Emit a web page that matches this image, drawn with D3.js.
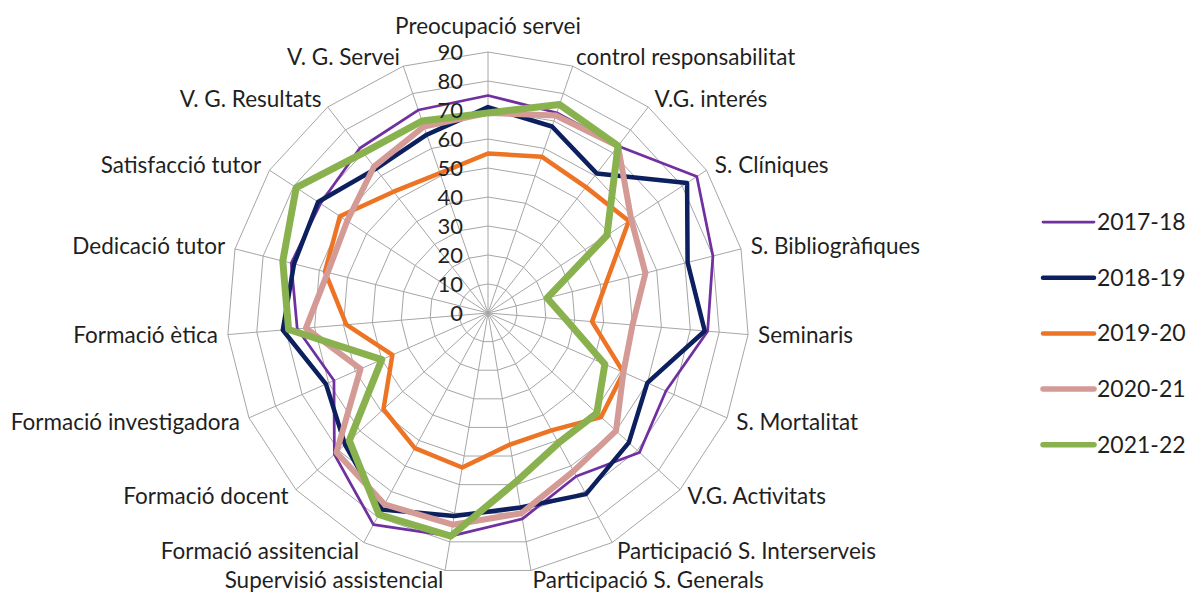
<!DOCTYPE html>
<html>
<head>
<meta charset="utf-8">
<script src="https://cdn.jsdelivr.net/npm/d3@7/dist/d3.min.js"></script>
<style>
  body { margin: 0; background: #fff; }
  text { font-family: Lato, "Open Sans", sans-serif; fill: #1f1f1f; }
</style>
</head>
<body>
<div class="chart"></div>
<script>
// Chart data
var categories = [
    "Preocupació servei", "control responsabilitat", "V.G. interés", "S. Clíniques",
    "S. Bibliogràfiques", "Seminaris", "S. Mortalitat", "V.G. Activitats",
    "Participació S. Interserveis", "Participació S. Generals", "Supervisió assistencial",
    "Formació assitencial", "Formació docent", "Formació investigadora", "Formació ètica",
    "Dedicació tutor", "Satisfacció tutor", "V. G. Resultats", "V. G. Servei"
];
var seriesNames = ["2017-18", "2018-19", "2019-20", "2020-21", "2021-22"];
var values1718 = [75, 73, 73, 86, 80, 76, 67, 71, 64, 72, 78, 83, 72, 58, 66, 70, 69, 72, 74];
var values1819 = [71, 68, 61, 82, 71, 75, 60, 66, 71, 68, 71, 77, 67, 61, 71, 69, 70, 63, 65];
var values1920 = [55, 57, 55, 58, 42, 36, 51, 53, 46, 46, 54, 53, 49, 36, 49, 58, 61, 53, 51];
var values2021 = [69, 72, 73, 59, 56, 50, 51, 60, 62, 70, 74, 75, 71, 48, 63, 57, 58, 64, 68];
var values2122 = [69, 76, 73, 49, 21, 27, 44, 51, 51, 59, 78, 79, 65, 40, 69, 73, 79, 70, 70];
var tickValues = [0, 10, 20, 30, 40, 50, 60, 70, 80, 90];

var seriesValues = [values1718, values1819, values1920, values2021, values2122];
var seriesColors = ["#7030a0", "#0c1f5e", "#ec7424", "#d49a96", "#89b24f"];
var seriesWidths = [2.75, 4.5, 4.5, 6, 7];

var svgWidth = 1203;
var svgHeight = 594;
var cx = 488;
var cy = 313;
var radius = 261;

var svg = d3.select(".chart")
    .append("svg")
    .attr("width", svgWidth)
    .attr("height", svgHeight);

var chart = svg.append("g")
    .attr("transform", `translate(${cx}, ${cy})`);

var rScale = d3.scaleLinear().domain([0, 90]).range([0, radius]);
var angle = function(i) { return i * 2 * Math.PI / categories.length; };

// Grid rings (polygons)
chart.selectAll(".ring")
    .data(tickValues.slice(1))
    .enter()
    .append("path")
    .attr("d", function(t) {
        return d3.lineRadial()
            .angle(function(d, i) { return angle(i); })
            .radius(rScale(t))
            .curve(d3.curveLinearClosed)(categories);
    })
    .attr("fill", "none")
    .attr("stroke", "#a6a6a6")
    .attr("stroke-width", 1);

// Spokes
chart.selectAll(".spoke")
    .data(categories)
    .enter()
    .append("line")
    .attr("x1", 0)
    .attr("y1", 0)
    .attr("x2", function(d, i) { return rScale(90) * Math.sin(angle(i)); })
    .attr("y2", function(d, i) { return -rScale(90) * Math.cos(angle(i)); })
    .attr("stroke", "#a6a6a6")
    .attr("stroke-width", 1);

// Series lines
var line = d3.lineRadial()
    .angle(function(d, i) { return angle(i); })
    .radius(function(d) { return rScale(d); })
    .curve(d3.curveLinearClosed);

chart.selectAll(".series")
    .data(seriesValues)
    .enter()
    .append("path")
    .attr("d", function(d) { return line(d); })
    .attr("fill", "none")
    .attr("stroke", function(d, i) { return seriesColors[i]; })
    .attr("stroke-width", function(d, i) { return seriesWidths[i]; })
    .attr("stroke-linejoin", "round");

// Tick labels on the vertical axis
chart.selectAll(".tick-label")
    .data(tickValues)
    .enter()
    .append("text")
    .attr("x", -25)
    .attr("y", function(d) { return -rScale(d); })
    .attr("dy", "0.35em")
    .attr("text-anchor", "end")
    .style("font-size", "22px")
    .text(function(d) { return d; });

// Category labels
chart.selectAll(".cat-label")
    .data(categories)
    .enter()
    .append("text")
    .attr("x", function(d, i) { return (radius + 10) * Math.sin(angle(i)); })
    .attr("y", function(d, i) { return -(radius + 10) * Math.cos(angle(i)) - (i === 0 ? 16 : 0); })
    .attr("dy", "0.35em")
    .attr("text-anchor", function(d, i) {
        var s = Math.sin(angle(i));
        if (Math.abs(s) < 0.01) return "middle";
        return s > 0 ? "start" : "end";
    })
    .style("font-size", "22.5px")
    .text(function(d) { return d; });

// Legend
var legend = svg.append("g")
    .attr("transform", "translate(1043, 222)");

var legendItem = legend.selectAll(".legend-item")
    .data(seriesNames)
    .enter()
    .append("g")
    .attr("transform", function(d, i) { return `translate(0, ${i * 55.7})`; });

legendItem.append("line")
    .attr("x1", 0)
    .attr("x2", 51)
    .attr("y1", 0)
    .attr("y2", 0)
    .attr("stroke", function(d, i) { return seriesColors[i]; })
    .attr("stroke-width", function(d, i) { return Math.min(seriesWidths[i], 5.5); })
    .attr("stroke-linecap", "round");

legendItem.append("text")
    .attr("x", 54)
    .attr("y", 0)
    .attr("dy", "0.35em")
    .style("font-size", "23px")
    .text(function(d) { return d; });
</script>
</body>
</html>
